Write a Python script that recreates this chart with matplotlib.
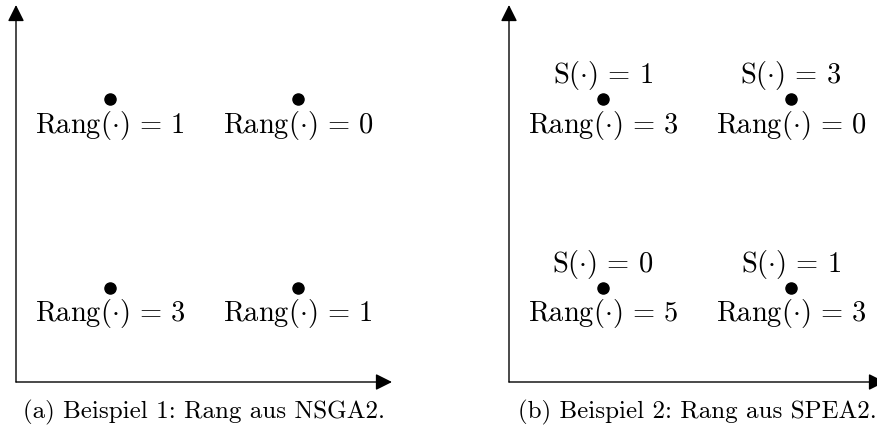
import matplotlib
matplotlib.use("Agg")
import matplotlib.pyplot as plt

plt.rcParams["mathtext.fontset"] = "cm"

# objective values of the four individuals (same grid in both examples)
xs = [1, 2, 1, 2]
ys = [2, 2, 1, 1]
rank_nsga2 = [1, 0, 3, 1]
rank_spea2 = [3, 0, 5, 3]
strength_spea2 = [1, 3, 0, 1]
captions = ["(a) Beispiel 1: Rang aus NSGA2.", "(b) Beispiel 2: Rang aus SPEA2."]

W, H = 877, 428
fig = plt.figure(figsize=(W / 100, H / 100), dpi=100)


def add_panel(x0):
    ax = fig.add_axes([x0 / W, 46 / H, 376 / W, 377 / H])
    ax.set_xlim(0.5, 2.5)
    ax.set_ylim(0.5, 2.5)
    ax.axis("off")
    arrow = dict(arrowstyle="-|>,head_length=1.0,head_width=0.5", lw=1.0,
                 color="black", shrinkA=0, shrinkB=0, mutation_scale=10)
    ax.annotate("", xy=(1, 0), xytext=(0, 0), xycoords="axes fraction",
                arrowprops=arrow, annotation_clip=False)
    ax.annotate("", xy=(0, 1), xytext=(0, 0), xycoords="axes fraction",
                arrowprops=arrow, annotation_clip=False)
    ax.plot(xs, ys, "o", color="black", ms=8, clip_on=False)
    return ax


def label(ax, x, y, txt, dy):
    ax.annotate(txt, (x, y), xytext=(0, dy), textcoords="offset points",
                ha="center", va="baseline", fontsize=20.5)


def caption(ax, txt):
    ax.annotate(txt, (0.5, 0), xycoords="axes fraction", xytext=(0, -26),
                textcoords="offset points", ha="center", va="baseline",
                fontsize=18, family="cmr10", annotation_clip=False)


ax1 = add_panel(16)
for x, y, r in zip(xs, ys, rank_nsga2):
    label(ax1, x, y, r"$\mathrm{Rang}(\cdot)\,=\,%d$" % r, -24)
caption(ax1, captions[0])

ax2 = add_panel(509)
for x, y, r, s in zip(xs, ys, rank_spea2, strength_spea2):
    label(ax2, x, y, r"$\mathrm{Rang}(\cdot)\,=\,%d$" % r, -24)
    label(ax2, x, y, r"$\mathrm{S}(\cdot)\,=\,%d$" % s, 11.5)
caption(ax2, captions[1])

fig.savefig("out.png", dpi=100)
